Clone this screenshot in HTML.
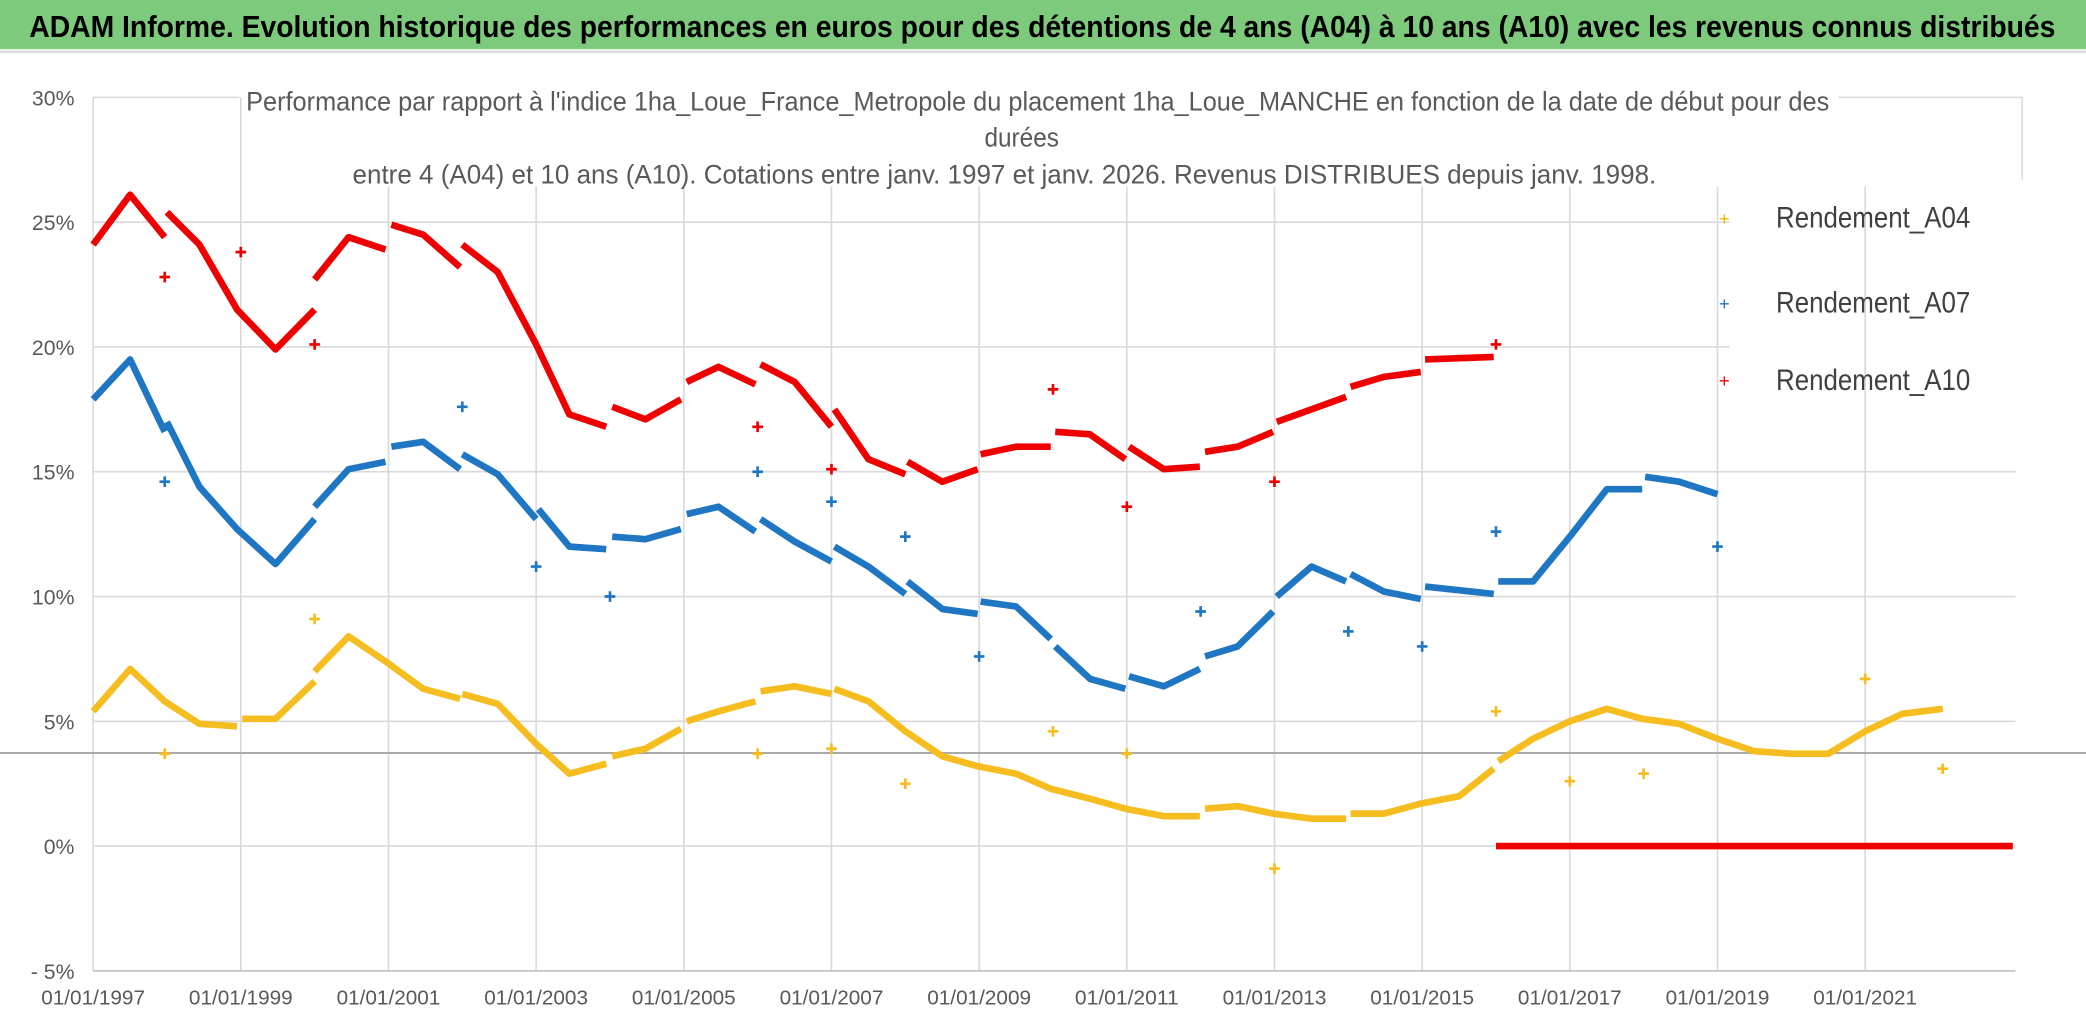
<!DOCTYPE html>
<html><head><meta charset="utf-8">
<style>
html,body{margin:0;padding:0;background:#fff;}
svg{display:block;}
text{font-family:"Liberation Sans",sans-serif;}
</style></head>
<body>
<svg id="chart" width="2086" height="1031" viewBox="0 0 1568 775" preserveAspectRatio="none" xmlns="http://www.w3.org/2000/svg">
<rect x="0" y="0" width="1568" height="775" fill="#fff"/>
<rect x="0" y="0" width="1568" height="37" fill="#7dca7d"/>
<text x="22" y="28" font-size="23" font-weight="bold" fill="#000" textLength="1523" lengthAdjust="spacingAndGlyphs">ADAM Informe. Evolution historique des performances en euros pour des détentions de 4 ans (A04) à 10 ans (A10) avec les revenus connus distribués</text>
<line x1="0" y1="39" x2="1568" y2="39" stroke="#ddd" stroke-width="2"/>
<g id="grid"></g>
<line x1="0" y1="566" x2="1568" y2="566" stroke="#aaa" stroke-width="1.5"/>
<g id="subtitle" fill="#595959" font-size="20">
<text x="185" y="83" textLength="1190" lengthAdjust="spacingAndGlyphs">Performance  par rapport à l'indice 1ha_Loue_France_Metropole  du placement 1ha_Loue_MANCHE en fonction de la date de début pour des</text>
<text x="768" y="110" text-anchor="middle" textLength="56" lengthAdjust="spacingAndGlyphs">durées</text>
<text x="265" y="138" textLength="980" lengthAdjust="spacingAndGlyphs">entre 4 (A04) et 10 ans (A10). Cotations entre janv. 1997 et janv. 2026. Revenus DISTRIBUES depuis janv. 1998.</text>
</g>
<g id="axes" fill="#595959"></g>
<g id="series"></g>
<g id="legend" font-size="22" fill="#404040">
<g><text x="1292" y="169" fill="#f5b800" font-size="14">+</text><text x="1335" y="171" textLength="146" lengthAdjust="spacingAndGlyphs">Rendement_A04</text></g>
<g><text x="1292" y="233" fill="#1f77c4" font-size="14">+</text><text x="1335" y="235" textLength="146" lengthAdjust="spacingAndGlyphs">Rendement_A07</text></g>
<g><text x="1292" y="291" fill="#ee0000" font-size="14">+</text><text x="1335" y="293" textLength="146" lengthAdjust="spacingAndGlyphs">Rendement_A10</text></g>
</g>
</svg>
<script>
const yTicks = [30,25,20,15,10,5,0,-5];
const yTickLabels = ["30%","25%","20%","15%","10%","5%","0%","- 5%"];
const xTicks = [1997,1999,2001,2003,2005,2007,2009,2011,2013,2015,2017,2019,2021];
const xTickLabels = ["01/01/1997","01/01/1999","01/01/2001","01/01/2003","01/01/2005","01/01/2007","01/01/2009","01/01/2011","01/01/2013","01/01/2015","01/01/2017","01/01/2019","01/01/2021"];

const a10Dates = [1997.0,1997.5,1997.97,null,1998.0,1998.44,1998.95,1999.47,2000.0,null,2000.0,2000.46,2000.96,null,2001.04,2001.47,2001.97,null,2002.0,2002.48,2003.0,2003.45,2003.95,null,2004.03,2004.48,2004.96,null,2005.04,2005.47,2005.97,null,2006.04,2006.5,2007.0,null,2007.04,2007.5,2008.0,null,2008.03,2008.5,2008.98,null,2009.02,2009.5,2009.97,null,2010.03,2010.5,2010.98,null,2011.03,2011.5,2011.99,null,2012.06,2012.5,2012.98,null,2013.03,2013.97,null,2014.03,2014.48,2014.98,null,2015.04,2015.97,null,2016.0,2023.0];
const a10Values = [24.1,26.1,24.4,null,25.4,24.1,21.5,19.9,21.5,null,22.7,24.4,23.9,null,24.9,24.5,23.2,null,24.1,23.0,20.1,17.3,16.8,null,17.6,17.1,17.9,null,18.6,19.2,18.5,null,19.3,18.6,16.8,null,17.5,15.5,14.9,null,15.4,14.6,15.1,null,15.7,16.0,16.0,null,16.6,16.5,15.5,null,16.0,15.1,15.2,null,15.8,16.0,16.6,null,17.0,18.0,null,18.4,18.8,19.0,null,19.5,19.6,null,0,0];
const a10OutDates = [1997.97,1999.0,2000.0,2006.0,2007.0,2010.0,2011.0,2013.0,2016.0];
const a10OutValues = [22.8,23.8,20.1,16.8,15.1,18.3,13.6,14.6,20.1];

const a07Dates = [1997.0,1997.5,1997.97,null,1998.0,1998.44,1998.95,1999.47,2000.0,null,2000.0,2000.46,2000.96,null,2001.04,2001.47,2001.97,null,2002.0,2002.48,2003.0,null,2003.03,2003.45,2003.95,null,2004.03,2004.48,2004.96,null,2005.04,2005.47,2005.97,null,2006.04,2006.5,2007.0,null,2007.04,2007.5,2008.0,null,2008.03,2008.5,2008.98,null,2009.02,2009.5,2009.97,null,2010.03,2010.5,2010.98,null,2011.03,2011.5,2011.99,null,2012.06,2012.5,2012.98,null,2013.03,2013.5,2013.97,null,2014.03,2014.48,2014.98,null,2015.04,2015.97,null,2016.03,2016.5,2017.0,2017.5,2017.98,null,2018.02,2018.48,2019.0,null,2019.09];
const a07Values = [17.9,19.5,16.6,null,17.0,14.4,12.7,11.3,13.1,null,13.6,15.1,15.4,null,16.0,16.2,15.1,null,15.7,14.9,13.1,null,13.5,12.0,11.9,null,12.4,12.3,12.7,null,13.3,13.6,12.6,null,13.1,12.2,11.4,null,12.0,11.2,10.1,null,10.6,9.5,9.3,null,9.8,9.6,8.3,null,8.0,6.7,6.3,null,6.8,6.4,7.1,null,7.6,8.0,9.4,null,10.0,11.2,10.6,null,10.9,10.2,9.9,null,10.4,10.1,null,10.6,10.6,12.4,14.3,14.3,null,14.8,14.6,14.1,null,14.4];
const a07OutDates = [1997.97,2002.0,2003.0,2004.0,2006.0,2007.0,2008.0,2009.0,2012.0,2014.0,2015.0,2016.0,2019.0];
const a07OutValues = [14.6,17.6,11.2,10.0,15.0,13.8,12.4,7.6,9.4,8.6,8.0,12.6,12.0];

const a04Dates = [1997.0,1997.5,1997.97,1998.44,1998.95,null,1999.02,1999.47,2000.0,null,2000.0,2000.46,2000.96,2001.47,2001.97,null,2002.0,2002.48,2003.0,2003.45,2003.95,null,2004.03,2004.48,2004.96,null,2005.04,2005.47,2005.97,null,2006.04,2006.5,2007.0,null,2007.04,2007.5,2008.0,2008.5,2008.98,2009.5,2009.97,2010.5,2010.98,2011.5,2011.99,null,2012.06,2012.5,2012.98,2013.5,2013.97,null,2014.03,2014.48,2014.98,2015.5,2015.97,null,2016.03,2016.5,2017.0,2017.5,2017.98,2018.48,2019.0,2019.5,2020.0,2020.5,2021.0,2021.5,2022.05];
const a04Values = [5.4,7.1,5.8,4.9,4.8,null,5.1,5.1,6.6,null,7.0,8.4,7.4,6.3,5.9,null,6.1,5.7,4.1,2.9,3.3,null,3.6,3.9,4.7,null,5.0,5.4,5.8,null,6.2,6.4,6.1,null,6.3,5.8,4.6,3.6,3.2,2.9,2.3,1.9,1.5,1.2,1.2,null,1.5,1.6,1.3,1.1,1.1,null,1.3,1.3,1.7,2.0,3.1,null,3.4,4.3,5.0,5.5,5.1,4.9,4.3,3.8,3.7,3.7,4.6,5.3,5.5];
const a04OutDates = [1997.97,2000.0,2006.0,2007.0,2008.0,2010.0,2011.0,2013.0,2016.0,2017.0,2018.0,2021.0,2022.05];
const a04OutValues = [3.7,9.1,3.7,3.9,2.5,4.6,3.7,-0.9,5.4,2.6,2.9,6.7,3.1];

const NS = "http://www.w3.org/2000/svg";
const X0 = 70, PX_PER_YEAR = 55.5, Y0 = 636, PX_PER_PCT = 18.76;
function xScale(d){ return X0 + (d - 1997) * PX_PER_YEAR; }
function yScale(v){ return Y0 - v * PX_PER_PCT; }
function mk(tag, attrs, parent){ const e = document.createElementNS(NS, tag); for (const k in attrs) e.setAttribute(k, attrs[k]); parent.appendChild(e); return e; }

const grid = document.getElementById('grid');
const axes = document.getElementById('axes');
const plotRight = 1515;
yTicks.forEach((t, i) => {
  const y = yScale(t);
  let x2 = plotRight;
  if (t === 25 || t === 20) x2 = 1300;
  if (t === 30) {
    const g1 = mk('line', {x1: X0, y1: y, x2: 180, y2: y, stroke: '#d9d9d9', 'stroke-width': 1.2}, grid);
    
    
    const g2 = mk('line', {x1: 1382, y1: y, x2: 1520, y2: y, stroke: '#d9d9d9', 'stroke-width': 1.2}, grid);
    
    
  } else {
    const g = mk('line', {x1: X0, y1: y, x2: x2, y2: y, stroke: '#d9d9d9', 'stroke-width': 1.2}, grid);
    
    
  }
  const lb = mk('text', {x: 56, y: y + 6, 'text-anchor': 'end', 'font-size': 16}, axes);
  lb.textContent = yTickLabels[i];
  
  
});
xTicks.forEach((t, i) => {
  const x = xScale(t);
  const top = x < 185 ? yScale(30) : 140;
  const g = mk('line', {x1: x, y1: top, x2: x, y2: yScale(-5), stroke: '#d9d9d9', 'stroke-width': 1.2}, grid);
  
  
  const lb = mk('text', {x: x, y: 755, 'text-anchor': 'middle', 'font-size': 15, textLength: 78, lengthAdjust: 'spacingAndGlyphs'}, axes);
  lb.textContent = xTickLabels[i];
  
  
});
const rv = mk('line', {x1: 1520, y1: yScale(30), x2: 1520, y2: 135, stroke: '#d9d9d9', 'stroke-width': 1.2}, grid);


const ax = mk('line', {x1: X0, y1: yScale(-5), x2: plotRight, y2: yScale(-5), stroke: '#bfbfbf', 'stroke-width': 1.2}, grid);



const seriesG = document.getElementById('series');
function drawSeries(name, dates, values, outD, outV, color){
  const g = mk('g', {}, seriesG);
  
  
  let pts = [];
  const flush = () => {
    if (pts.length > 1) {
      const pl = mk('polyline', {points: pts.join(' '), fill: 'none', stroke: color, 'stroke-width': 5, 'stroke-linejoin': 'round'}, g);
      
      
    }
    pts = [];
  };
  for (let i = 0; i < dates.length; i++) {
    if (dates[i] === null || values[i] === null) { flush(); continue; }
    pts.push(xScale(dates[i]).toFixed(1) + ',' + yScale(values[i]).toFixed(1));
  }
  flush();
  for (let i = 0; i < outD.length; i++) {
    const x = xScale(outD[i]), y = yScale(outV[i]);
    const p = mk('path', {d: `M${x-4},${y}H${x+4}M${x},${y-4}V${y+4}`, stroke: color, 'stroke-width': 2}, g);
    
    
  }
}
drawSeries('series-a04', a04Dates, a04Values, a04OutDates, a04OutValues, '#f5bd1f');
drawSeries('series-a07', a07Dates, a07Values, a07OutDates, a07OutValues, '#1f77c4');
drawSeries('series-a10', a10Dates, a10Values, a10OutDates, a10OutValues, '#ee0000');
</script>
</body></html>
